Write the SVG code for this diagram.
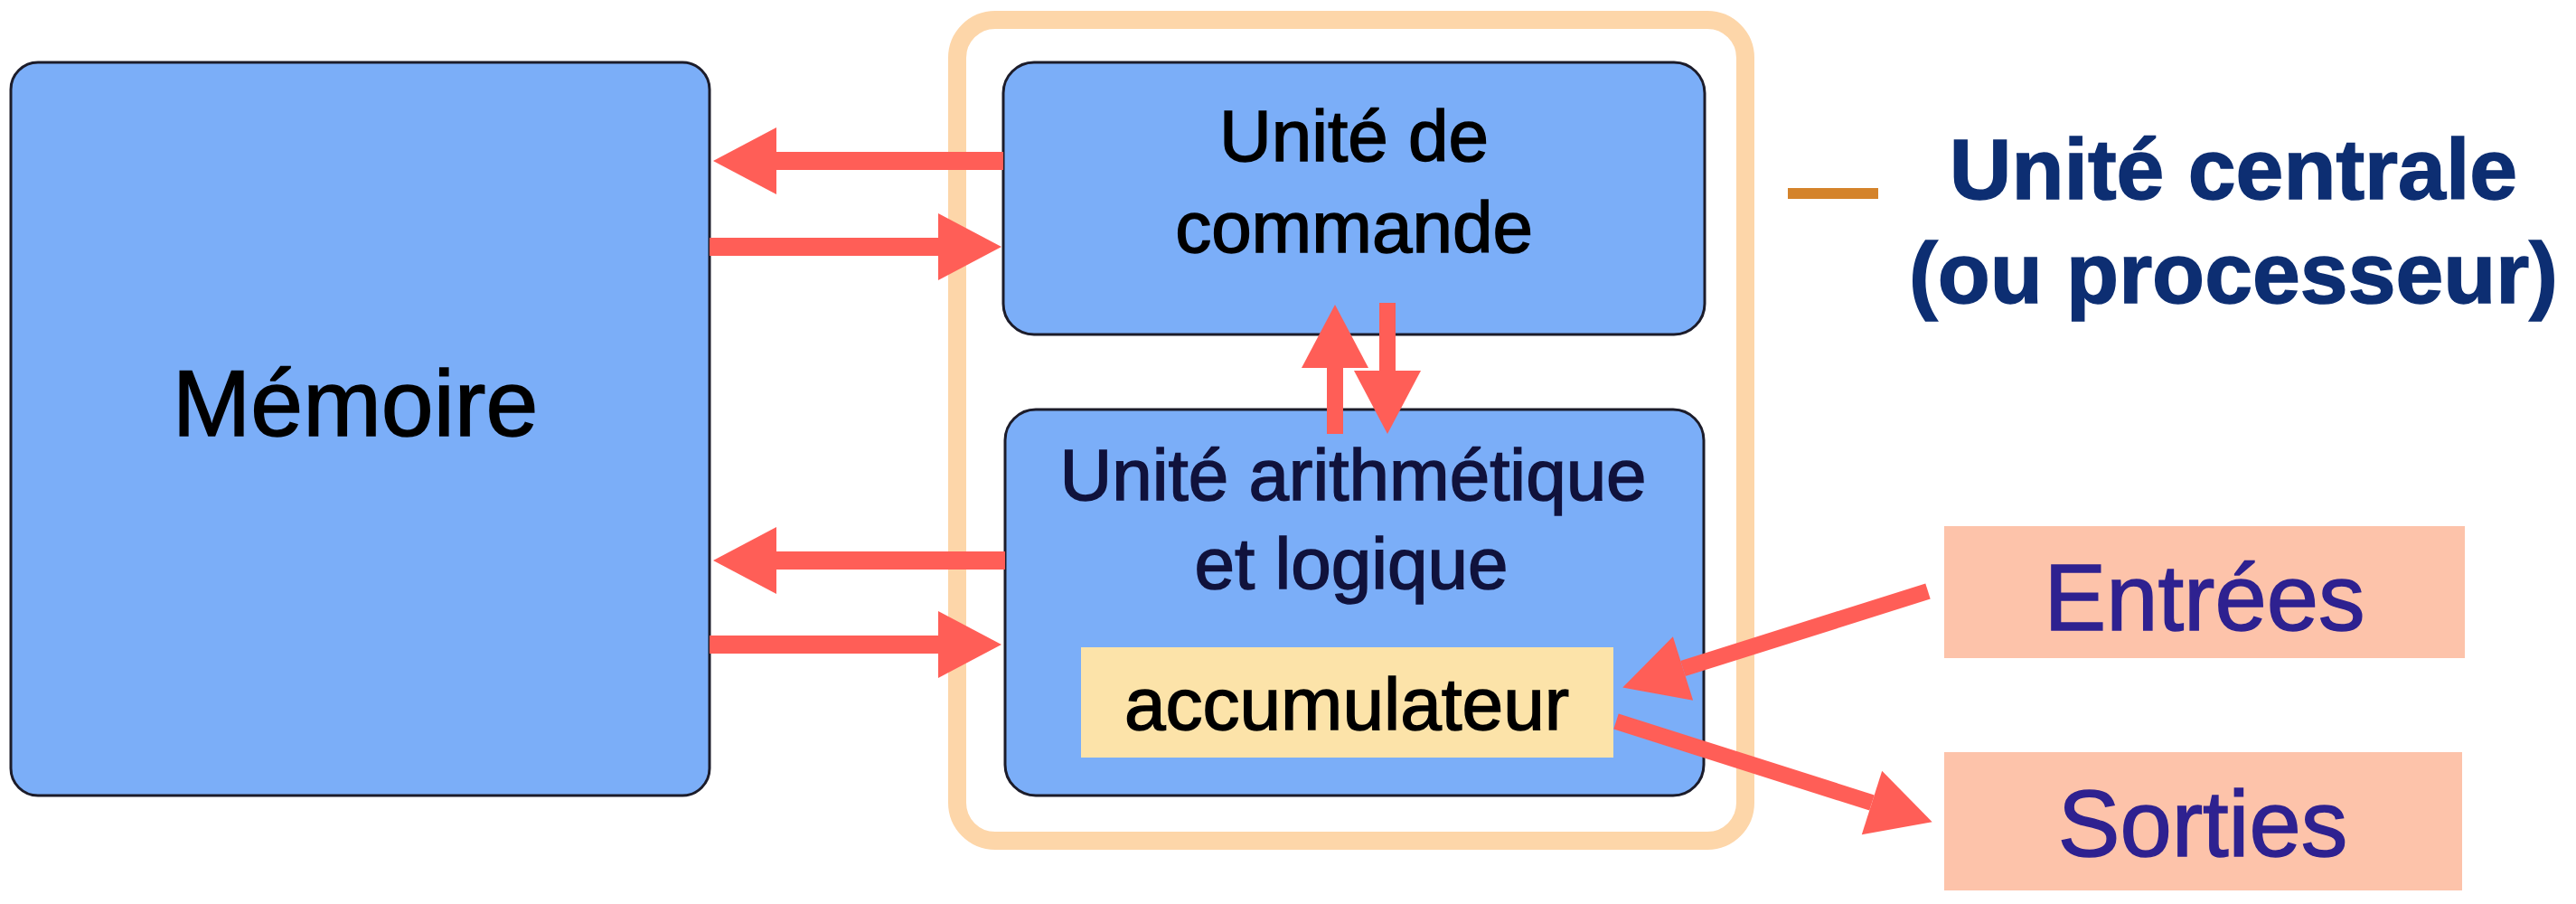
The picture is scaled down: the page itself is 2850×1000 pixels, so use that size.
<svg xmlns="http://www.w3.org/2000/svg" width="2850" height="1000" viewBox="0 0 2850 1000">
  <style>
    text { font-family: "Liberation Sans", Arial, sans-serif; text-anchor: middle; stroke-width: 1.5px; }
    .box { fill: #7BAEF8; stroke: #1c1c2a; stroke-width: 3; }
    .dark { fill: #000000; stroke: #000000; font-size: 80px; }
    .alu { fill: #10123c; stroke: #10123c; font-size: 80px; }
    .io { fill: #FDC3AA; }
    .iotext { fill: #2E2190; stroke: #2E2190; font-size: 103px; }
    .arrow { stroke: #FF5E57; fill: none; marker-end: url(#head); }
    .h { stroke-width: 20; }
    .v { stroke-width: 18; }
  </style>
  <defs>
    <marker id="head" markerUnits="userSpaceOnUse" markerWidth="70" markerHeight="74" refX="0" refY="37" orient="auto" overflow="visible">
      <path d="M0,0 L70,37 L0,74 Z" fill="#FF5E57"/>
    </marker>
  </defs>
  <rect width="2850" height="1000" fill="#ffffff"/>

  <g id="unite-centrale-frame">
    <rect x="1059" y="22" width="872" height="908" rx="42" ry="42" fill="none" stroke="#FDD6A9" stroke-width="20"/>
  </g>

  <g id="memoire">
    <rect class="box" x="12" y="69" width="773" height="811" rx="30" ry="30"/>
    <text class="dark" x="393" y="482" style="font-size:104px">Mémoire</text>
  </g>

  <g id="unite-commande">
    <rect class="box" x="1110" y="69" width="776" height="301" rx="34" ry="34"/>
    <text class="dark" x="1498" y="178">Unité de</text>
    <text class="dark" x="1498" y="279">commande</text>
  </g>

  <g id="ual">
    <rect class="box" x="1112" y="453" width="773" height="427" rx="34" ry="34"/>
    <text class="alu" x="1497" y="553">Unité arithmétique</text>
    <text class="alu" x="1495" y="651">et logique</text>
  </g>

  <g id="accumulateur">
    <rect x="1196" y="716" width="589" height="122" fill="#FCE3A9"/>
    <text class="dark" x="1490" y="807" style="font-size:82px">accumulateur</text>
  </g>

  <g id="entrees">
    <rect class="io" x="2151" y="582" width="576" height="146"/>
    <text class="iotext" x="2439" y="697">Entrées</text>
  </g>

  <g id="sorties">
    <rect class="io" x="2151" y="832" width="573" height="153"/>
    <text class="iotext" x="2437" y="947">Sorties</text>
  </g>

  <g id="legende">
    <line x1="1978" y1="214" x2="2078" y2="214" stroke="#D4832B" stroke-width="12"/>
    <text x="2471" y="220" fill="#0D2E72" stroke="#0D2E72" font-weight="bold" style="font-size:95px">Unité centrale</text>
    <text x="2471" y="335" fill="#0D2E72" stroke="#0D2E72" font-weight="bold" style="font-size:95px">(ou processeur)</text>
  </g>

  <g id="connecteurs">
    <line class="arrow h" x1="1110" y1="178" x2="859" y2="178"/>
    <line class="arrow h" x1="785" y1="273" x2="1038" y2="273"/>
    <line class="arrow h" x1="1112" y1="620" x2="859" y2="620"/>
    <line class="arrow h" x1="785" y1="713" x2="1038" y2="713"/>
    <line class="arrow v" x1="1477" y1="480" x2="1477" y2="407"/>
    <line class="arrow v" x1="1535" y1="335" x2="1535" y2="410"/>
    <line class="arrow v" x1="2133" y1="654" x2="1862" y2="739.5"/>
    <line class="arrow v" x1="1788" y1="798" x2="2071" y2="888"/>
  </g>
</svg>
